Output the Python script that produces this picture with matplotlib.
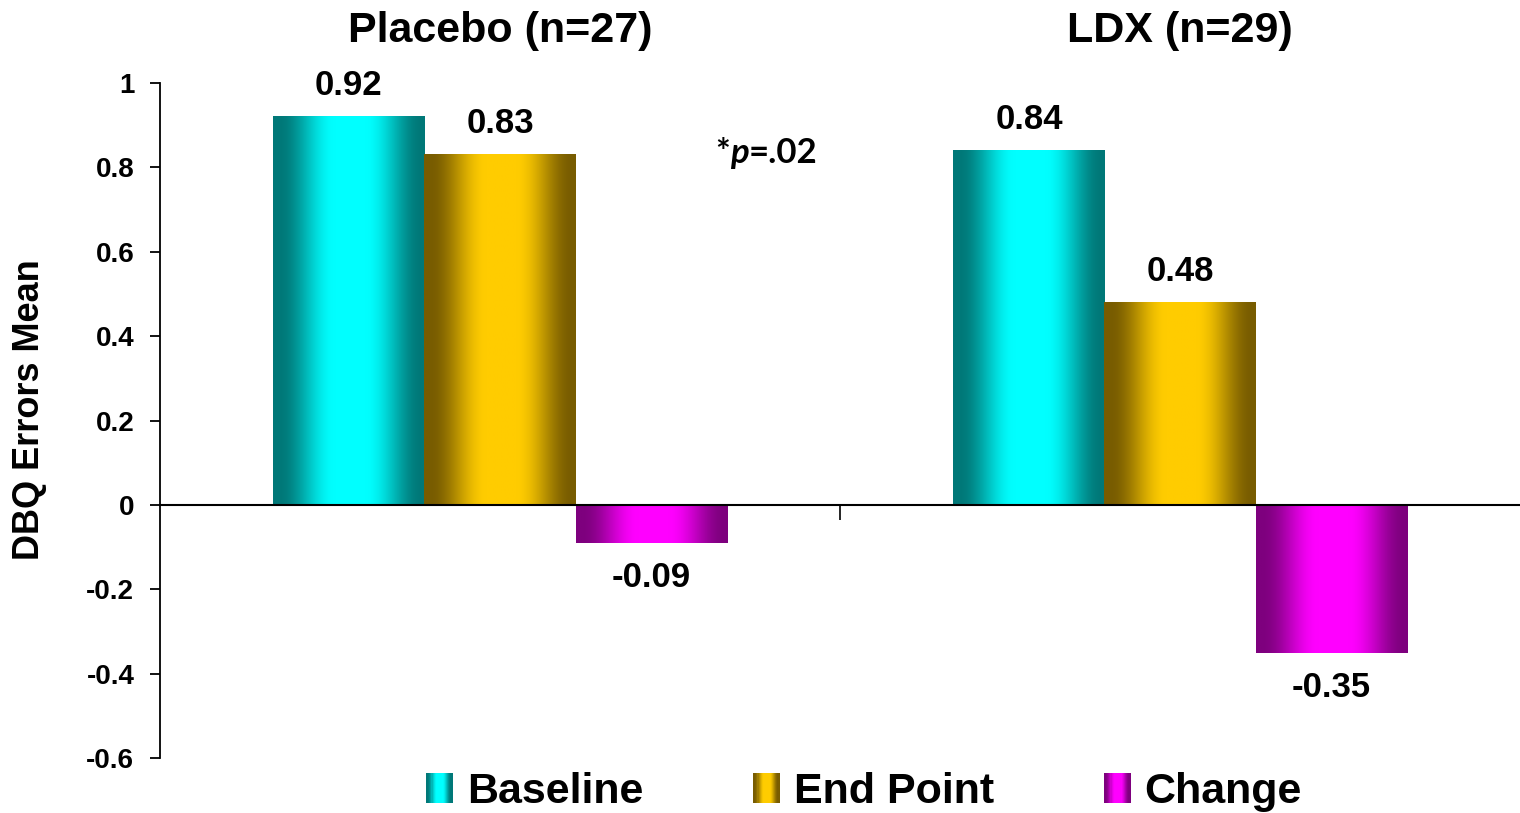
import numpy as np
import matplotlib
matplotlib.use("Agg")
import matplotlib.pyplot as plt
import matplotlib.transforms as mtransforms
from matplotlib.patches import Rectangle, Patch
from matplotlib.legend_handler import HandlerBase

# ---- data ----
groups = ["Placebo (n=27)", "LDX (n=29)"]
series = ["Baseline", "End Point", "Change"]
baseline = [0.92, 0.84]
end_point = [0.83, 0.48]
change = [-0.09, -0.35]
y_ticks = [-0.6, -0.4, -0.2, 0.0, 0.2, 0.4, 0.6, 0.8, 1.0]
y_tick_labels = ["-0.6", "-0.4", "-0.2", "0", "0.2", "0.4", "0.6", "0.8", "1"]
y_label = "DBQ Errors Mean"
p_value = "=.02"

# ---- styling ----
FONT = "Liberation Sans"
shades = {
    "Baseline": ("#007878", "#00FFFF"),
    "End Point": ("#785C00", "#FFCC00"),
    "Change": ("#7E007E", "#FF00FF"),
}


def gradient_strip(dark, bright, n=256):
    """Horizontal metallic ramp: dark edges, bright centre."""
    t = np.linspace(0, 1, n)
    d = np.abs(t - 0.51)
    f = np.clip((0.47 - d) / 0.37, 0, 1)
    f = f * f * (3 - 2 * f)
    c0 = np.array(matplotlib.colors.to_rgb(dark))
    c1 = np.array(matplotlib.colors.to_rgb(bright))
    return c0[None, :] + (c1 - c0)[None, :] * f[:, None]


class GradientHandler(HandlerBase):
    def __init__(self, dark, bright, **kw):
        super().__init__(**kw)
        self.dark, self.bright = dark, bright

    def create_artists(self, legend, orig_handle, xdescent, ydescent,
                       width, height, fontsize, trans):
        cols = gradient_strip(self.dark, self.bright, n=24)
        n = len(cols)
        arts = []
        for i, c in enumerate(cols):
            r = Rectangle((-xdescent + width * i / n, -ydescent),
                          width / n * 1.05, height,
                          facecolor=c, edgecolor="none", transform=trans)
            arts.append(r)
        return arts


W, H = 1520, 813
fig = plt.figure(figsize=(W / 100, H / 100), dpi=100)
ax = fig.add_axes([160 / W, 55 / H, 1360 / W, 675 / H])

x = np.arange(len(groups))
bw = 1 / 4.5
values = [baseline, end_point, change]

for k, (name, vals) in enumerate(zip(series, values)):
    bars = ax.bar(x + (k - 1) * bw, vals, width=bw,
                  facecolor="none", edgecolor="none", zorder=2)
    dark, bright = shades[name]
    img = gradient_strip(dark, bright)[None, :, :]
    for rect, v in zip(bars, vals):
        x0, y0 = rect.get_x(), rect.get_y()
        ax.imshow(img, extent=(x0, x0 + rect.get_width(), y0, y0 + rect.get_height()),
                  aspect="auto", interpolation="bilinear", zorder=2)
        off = 22.5 if v >= 0 else -25
        ax.annotate(f"{v:.2f}", xy=(rect.get_x() + rect.get_width() / 2, v),
                    xytext=(0, off), textcoords="offset points",
                    ha="center", va="center", fontsize=25,
                    fontweight="bold", family=FONT)

ax.set_xlim(-0.5, 1.5)
ax.set_ylim(-0.6, 1.0)

# axes
for s in ("top", "right"):
    ax.spines[s].set_visible(False)
ax.spines["bottom"].set_position(("data", 0))
ax.spines["bottom"].set_linewidth(1.5)
ax.spines["bottom"].set_zorder(3)
ax.spines["left"].set_linewidth(1.3)
ax.set_xticks([0.5])
ax.tick_params(axis="x", length=11, width=1.2, direction="out", labelbottom=False)
ax.set_yticks(y_ticks)
ax.set_yticklabels(y_tick_labels)
ax.tick_params(axis="y", length=7.5, width=1.3, pad=11, labelsize=20)
for lab in ax.get_yticklabels():
    lab.set_fontweight("bold")
    lab.set_family(FONT)

ax.set_ylabel(y_label, fontsize=26, fontweight="bold", family=FONT)
ax.yaxis.label.set_va("center")
ax.yaxis.set_label_coords(-130 / 1360, 348 / 675)

# group titles
tr = mtransforms.blended_transform_factory(ax.transData, fig.transFigure)
for xi, g in zip(x, groups):
    ax.text(xi, 1 - 31 / H, g, transform=tr, ha="center", va="center",
            fontsize=31, fontweight="bold", family=FONT)

# significance note
t1 = ax.text(0.316, 0.81, "*", fontsize=25, fontweight="bold",
             family="Lato", ha="left", va="baseline")
t2 = ax.annotate("p", xy=(1, 0), xycoords=t1, ha="left", va="bottom",
                 fontsize=25, fontweight="bold", fontstyle="italic", family="Lato")
ax.annotate(p_value, xy=(1, 0), xycoords=t2, ha="left", va="bottom",
            fontsize=25, fontweight="bold", family="Lato")

# legend
handles = [Patch(label=s) for s in series]
handler_map = {h: GradientHandler(*shades[s]) for h, s in zip(handles, series)}
fig.legend(handles=handles, labels=series, handler_map=handler_map,
           loc="center", bbox_to_anchor=(864 / W, 1 - 792 / H), ncol=3,
           frameon=False, prop={"family": FONT, "weight": "bold", "size": 31},
           handlelength=0.62, handleheight=0.72, handletextpad=0.33,
           columnspacing=2.55, borderpad=0, borderaxespad=0)

fig.savefig("out.png", dpi=100)
